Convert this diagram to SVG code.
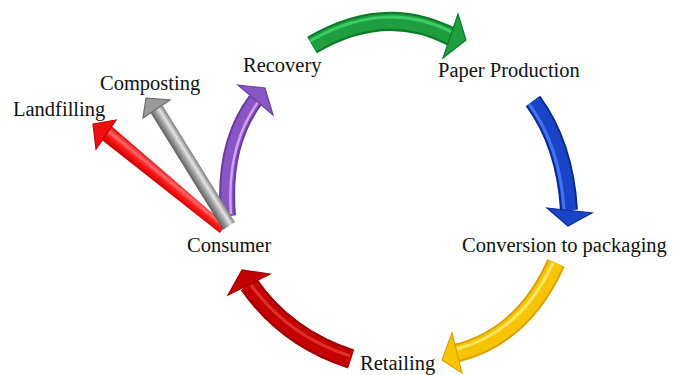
<svg xmlns="http://www.w3.org/2000/svg" width="673" height="375" viewBox="0 0 673 375">
<defs>
<style>
.lbl{font-family:"Liberation Serif","Times New Roman",serif;font-size:20.5px;fill:#111}
.sh{fill:none;stroke-linecap:butt}
.hd{stroke-width:1.2;stroke-linejoin:miter}
</style>
<linearGradient id="gRed" gradientUnits="userSpaceOnUse" x1="111.4" y1="125.9" x2="100.6" y2="139.1">
<stop offset="0" stop-color="#d80000"/><stop offset="0.35" stop-color="#ff6a6a"/><stop offset="0.55" stop-color="#ff1a1a"/><stop offset="1" stop-color="#c00000"/>
</linearGradient>
<linearGradient id="gGray" gradientUnits="userSpaceOnUse" x1="162.45" y1="105.3" x2="150.55" y2="112.7">
<stop offset="0" stop-color="#7a7a7a"/><stop offset="0.35" stop-color="#e6e6e6"/><stop offset="0.6" stop-color="#a8a8a8"/><stop offset="1" stop-color="#5e5e5e"/>
</linearGradient>
</defs>
<rect width="673" height="375" fill="#fff"/>
<g id="connectors">
<g id="retail-consumer">
<path class="sh" d="M351,359 Q286,338 249,284.5" stroke="#9a0000" stroke-width="20"/>
<path class="sh" d="M351,359 Q286,338 249,284.5" stroke="#c40000" stroke-width="16"/>
<path class="sh" d="M350,356 Q288,336 251,285" stroke="#de3030" stroke-width="3"/>
<polygon class="hd" points="228,295 242,270 270,274" fill="#c40000" stroke="#9a0000"/>
</g>
<g id="conversion-retail">
<path class="sh" d="M556,263 Q523.5,336 457,353" stroke="#d9a000" stroke-width="19"/>
<path class="sh" d="M556,263 Q523.5,336 457,353" stroke="#f8c400" stroke-width="15"/>
<path class="sh" d="M553,263 Q521,332 457,349" stroke="#ffe766" stroke-width="3"/>
<polygon class="hd" points="452,333 462,373 442,360" fill="#f8c400" stroke="#d9a000"/>
</g>
<g id="paper-conversion">
<path class="sh" d="M533,101 Q565,144.5 569,210" stroke="#0a2a90" stroke-width="18"/>
<path class="sh" d="M533,101 Q565,144.5 569,210" stroke="#1a44c8" stroke-width="14"/>
<path class="sh" d="M529,104 Q560,146 564,210" stroke="#3f74f0" stroke-width="3"/>
<polygon class="hd" points="547,208 592,213 568,226" fill="#1a44c8" stroke="#0a2a90"/>
</g>
<g id="recovery-paper">
<path class="sh" d="M312,45 Q385,2 452,37" stroke="#0b7a28" stroke-width="19"/>
<path class="sh" d="M312,45 Q385,2 452,37" stroke="#1e9e3c" stroke-width="15"/>
<path class="sh" d="M310,41 Q385,-2 452,32" stroke="#3ccc66" stroke-width="3"/>
<polygon class="hd" points="458,14 466,40 443,58" fill="#1e9e3c" stroke="#0b7a28"/>
</g>
<g id="consumer-recovery">
<path class="sh" d="M228,216 Q222,145 255.5,100" stroke="#6a3aa0" stroke-width="16"/>
<path class="sh" d="M228,216 Q222,145 255.5,100" stroke="#8a55c4" stroke-width="12"/>
<path class="sh" d="M231,214 Q226,147 258,102" stroke="#d0a4f4" stroke-width="2.5"/>
<polygon class="hd" points="238,85 265,88 273,115" fill="#8a55c4" stroke="#6a3aa0"/>
</g>
<g id="consumer-landfilling">
<polygon points="111.4,125.9 100.6,139.1 219.8,232.9 226.2,225.1" fill="url(#gRed)"/>
<polygon class="hd" points="93,124 116,120 96,149" fill="#f01010" stroke="#c00000"/>
</g>
<g id="consumer-composting">
<polygon points="162.45,105.3 150.55,112.7 223.05,229.7 234.95,222.3" fill="url(#gGray)"/>
<polygon points="223.05,229.7 234.95,222.3 229,226" fill="#555"/>
<polygon class="hd" points="146,98 170,100 143,118" fill="#9a9a9a" stroke="#6a6a6a"/>
</g>
</g>
<g id="node-recovery"><text class="lbl" x="243" y="72">Recovery</text></g>
<g id="node-composting"><text class="lbl" x="100" y="90">Composting</text></g>
<g id="node-landfilling"><text class="lbl" x="13" y="116">Landfilling</text></g>
<g id="node-consumer"><text class="lbl" x="187" y="252">Consumer</text></g>
<g id="node-paper"><text class="lbl" x="438" y="77">Paper Production</text></g>
<g id="node-conversion"><text class="lbl" x="462" y="252">Conversion<tspan dx="5">to packaging</tspan></text></g>
<g id="node-retailing"><text class="lbl" x="360" y="370">Retailing</text></g>
</svg>
